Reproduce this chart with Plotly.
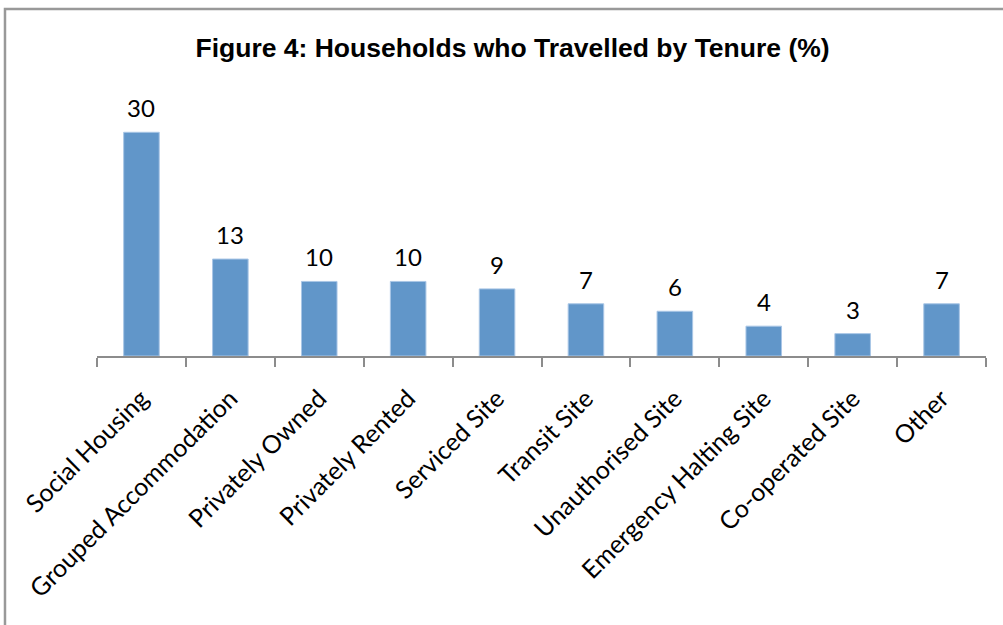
import plotly.graph_objects as go

categories = ["Social Housing", "Grouped Accommodation", "Privately Owned", "Privately Rented",
              "Serviced Site", "Transit Site", "Unauthorised Site", "Emergency Halting Site",
              "Co-operated Site", "Other"]
values = [30, 13, 10, 10, 9, 7, 6, 4, 3, 7]

bar_color = "#6196C9"
label_font = "Lato, 'Open Sans', sans-serif"

fig = go.Figure()
fig.add_trace(go.Bar(x=categories, y=values, marker=dict(color=bar_color, line=dict(color="#A9C6E6", width=1)),
                     hoverinfo="x+y"))

for c, v in zip(categories, values):
    fig.add_annotation(x=c, y=v, text=str(v), showarrow=False, yanchor="bottom", yshift=8,
                       font=dict(family=label_font, size=24, color="#000000"))

# chart border
fig.add_shape(type="rect", xref="paper", yref="paper", x0=-0.1035, x1=1.03, y0=-1.1, y1=1.3295,
              line=dict(color="#999999", width=2.5), fillcolor="rgba(0,0,0,0)", layer="below")

fig.update_layout(
    width=1003, height=625,
    margin=dict(l=97, r=17, t=95, b=269, autoexpand=False),
    paper_bgcolor="white", plot_bgcolor="white",
    bargap=0.6,
    showlegend=False,
    title=dict(text="<b>Figure 4: Households who Travelled by Tenure (%)</b>", x=0.511, xanchor="center",
               y=0.923, yanchor="middle",
               font=dict(family="Liberation Sans, Arial, sans-serif", size=26.5, color="#000000")),
    xaxis=dict(showline=True, linecolor="#8C8C8C", linewidth=2, ticks="outside", tickson="boundaries",
               ticklen=9, tickcolor="#8C8C8C", tickwidth=2, tickangle=-45, automargin=False,
               ticklabelstandoff=16,
               tickfont=dict(family=label_font, size=25, color="#000000"), showgrid=False),
    yaxis=dict(range=[0, 35], visible=False, showgrid=False, zeroline=False, automargin=False),
)

fig.write_html("out.html", config={"displayModeBar": False},
               post_script="document.body.style.margin='0px';document.body.style.overflow='hidden';")
